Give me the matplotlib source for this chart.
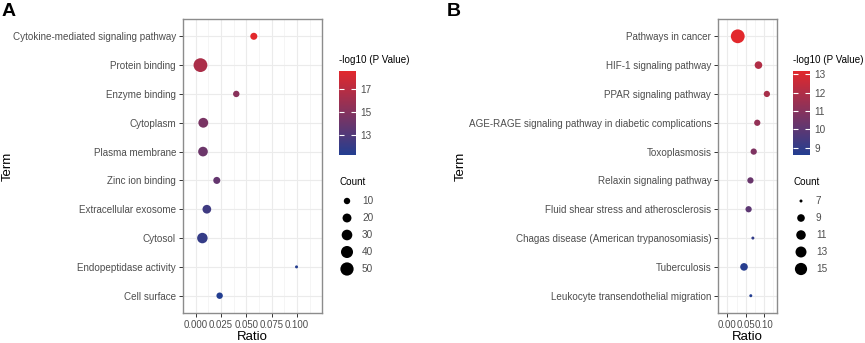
import matplotlib
matplotlib.use("Agg")
import matplotlib.pyplot as plt
import numpy as np
from matplotlib.colors import LinearSegmentedColormap

plt.rcParams['font.family'] = 'Liberation Sans'

# Panel A data (top to bottom)
terms_a = ["Cytokine-mediated signaling pathway", "Protein binding", "Enzyme binding",
           "Cytoplasm", "Plasma membrane", "Zinc ion binding", "Extracellular exosome",
           "Cytosol", "Endopeptidase activity", "Cell surface"]
ratio_a = [0.0573, 0.0047, 0.0400, 0.0075, 0.0072, 0.0208, 0.0110, 0.0066, 0.0994, 0.0236]
count_a = [12, 55, 10, 25, 24, 12, 19, 29, 5, 10]
logp_a = [18.6, 16.5, 15.2, 14.6, 14.1, 13.8, 12.4, 12.0, 11.4, 11.3]
xticks_a = [0.0, 0.025, 0.05, 0.075, 0.1]
xlabels_a = ["0.000", "0.025", "0.050", "0.075", "0.100"]
cticks_a = [13, 15, 17]
count_breaks_a = [10, 20, 30, 40, 50]

# Panel B data (top to bottom)
terms_b = ["Pathways in cancer", "HIF-1 signaling pathway", "PPAR signaling pathway",
           "AGE-RAGE signaling pathway in diabetic complications", "Toxoplasmosis",
           "Relaxin signaling pathway", "Fluid shear stress and atherosclerosis",
           "Chagas disease (American trypanosomiasis)", "Tuberculosis",
           "Leukocyte transendothelial migration"]
ratio_b = [0.0283, 0.0850, 0.1080, 0.0817, 0.0720, 0.0630, 0.0580, 0.0697, 0.0454, 0.0640]
count_b = [18, 9, 8, 8, 8, 8, 8, 7, 9, 7]
logp_b = [13.2, 12.0, 11.8, 11.3, 10.8, 10.3, 10.0, 9.0, 8.7, 8.6]
xticks_b = [0.0, 0.05, 0.1]
xlabels_b = ["0.00", "0.05", "0.10"]
cticks_b = [9, 10, 11, 12, 13]
count_breaks_b = [7, 9, 11, 13, 15]

W, H, DPI = 865, 343, 100
cmap = LinearSegmentedColormap.from_list("bluered", ["#233E91", "#E2282C"])
grey_txt = "#4D4D4D"


def dot_area(c, lo, hi, dmin=3.0, dmax=13.8):
    # ggplot-like area scale, diameter in px -> marker area in pt^2
    c = np.asarray(c, dtype=float)
    d_px = dmin + (dmax - dmin) * np.sqrt(np.clip((c - lo) / (hi - lo), 0, 1))
    return (d_px * 72 / DPI) ** 2


def fx(px):
    return px / W


def fy(py):
    return 1 - py / H


fig = plt.figure(figsize=(W / DPI, H / DPI), dpi=DPI)


def panel(left, right, terms, ratio, count, logp, xticks, xlabels, xlim, cticks,
          breaks, cbar_x, letter, letter_x, term_x):
    ax = fig.add_axes([fx(left), fy(313), fx(right - left), (313 - 19) / H])
    lo, hi = min(count), max(count)
    sc = ax.scatter(ratio[::-1], terms[::-1], s=dot_area(count[::-1], lo, hi),
                    c=logp[::-1], cmap=cmap, vmin=min(logp), vmax=max(logp),
                    linewidths=0, zorder=3)
    ax.set_ylim(-0.6, len(terms) - 0.4)
    ax.set_xlim(*xlim)
    ax.set_xticks(xticks)
    ax.set_xticklabels(xlabels)
    step = xticks[1] - xticks[0]
    minor = [xticks[0] - step / 2] + [t + step / 2 for t in xticks]
    ax.set_xticks(minor, minor=True)
    ax.grid(which='major', color='#EBEBEB', linewidth=0.8, zorder=0)
    ax.grid(which='minor', axis='x', color='#F2F2F2', linewidth=0.5, zorder=0)
    ax.set_axisbelow(True)
    ax.tick_params(axis='both', which='major', labelsize=7.1, labelcolor=grey_txt,
                   color='#333333', length=3, width=0.7, pad=2)
    ax.tick_params(axis='x', which='major', labelsize=6.9)
    ax.tick_params(axis='x', which='minor', length=0)
    for s in ax.spines.values():
        s.set_color('#8C8C8C')
        s.set_linewidth(1.0)
    fig.text(fx((left + right) / 2), fy(337), "Ratio", ha='center', va='center', fontsize=9.5)
    fig.text(fx(term_x), fy(166), "Term", ha='center', va='center', rotation=90, fontsize=9.5)
    fig.text(fx(letter_x), fy(3), letter, ha='left', va='top', fontsize=14, fontweight='bold')

    # colour bar
    cax = fig.add_axes([fx(cbar_x), fy(155), fx(17), (155 - 70.7) / H])
    cb = fig.colorbar(sc, cax=cax, ticks=cticks)
    cb.outline.set_visible(False)
    cax.tick_params(labelsize=7.2, labelcolor=grey_txt, color='white', direction='in',
                    length=3.5, width=0.8, left=True, right=True, pad=3)
    fig.text(fx(cbar_x), fy(60), "-log10 (P Value)", ha='left', va='center', fontsize=7.1)

    # size legend
    fig.text(fx(cbar_x), fy(182), "Count", ha='left', va='center', fontsize=7.1)
    ys = [201 + 17 * i for i in range(len(breaks))]
    lax = fig.add_axes([0, 0, 1, 1], facecolor='none')
    lax.set_xlim(0, W)
    lax.set_ylim(H, 0)
    lax.axis('off')
    lax.scatter([cbar_x + 8] * len(breaks), ys, s=dot_area(breaks, lo, hi), color='black',
                linewidths=0)
    for y, b in zip(ys, breaks):
        lax.text(cbar_x + 23, y, str(b), ha='left', va='center', fontsize=7.2, color=grey_txt)
    return ax


panel(183, 322, terms_a, ratio_a, count_a, logp_a, xticks_a, xlabels_a, (-0.0022, 0.1245),
      cticks_a, count_breaks_a, 339, "A", 2, 8)
panel(718.3, 777.3, terms_b, ratio_b, count_b, logp_b, xticks_b, xlabels_b, (-0.0066, 0.1366),
      cticks_b, count_breaks_b, 793, "B", 447, 461)

fig.savefig("out.png", dpi=DPI)
